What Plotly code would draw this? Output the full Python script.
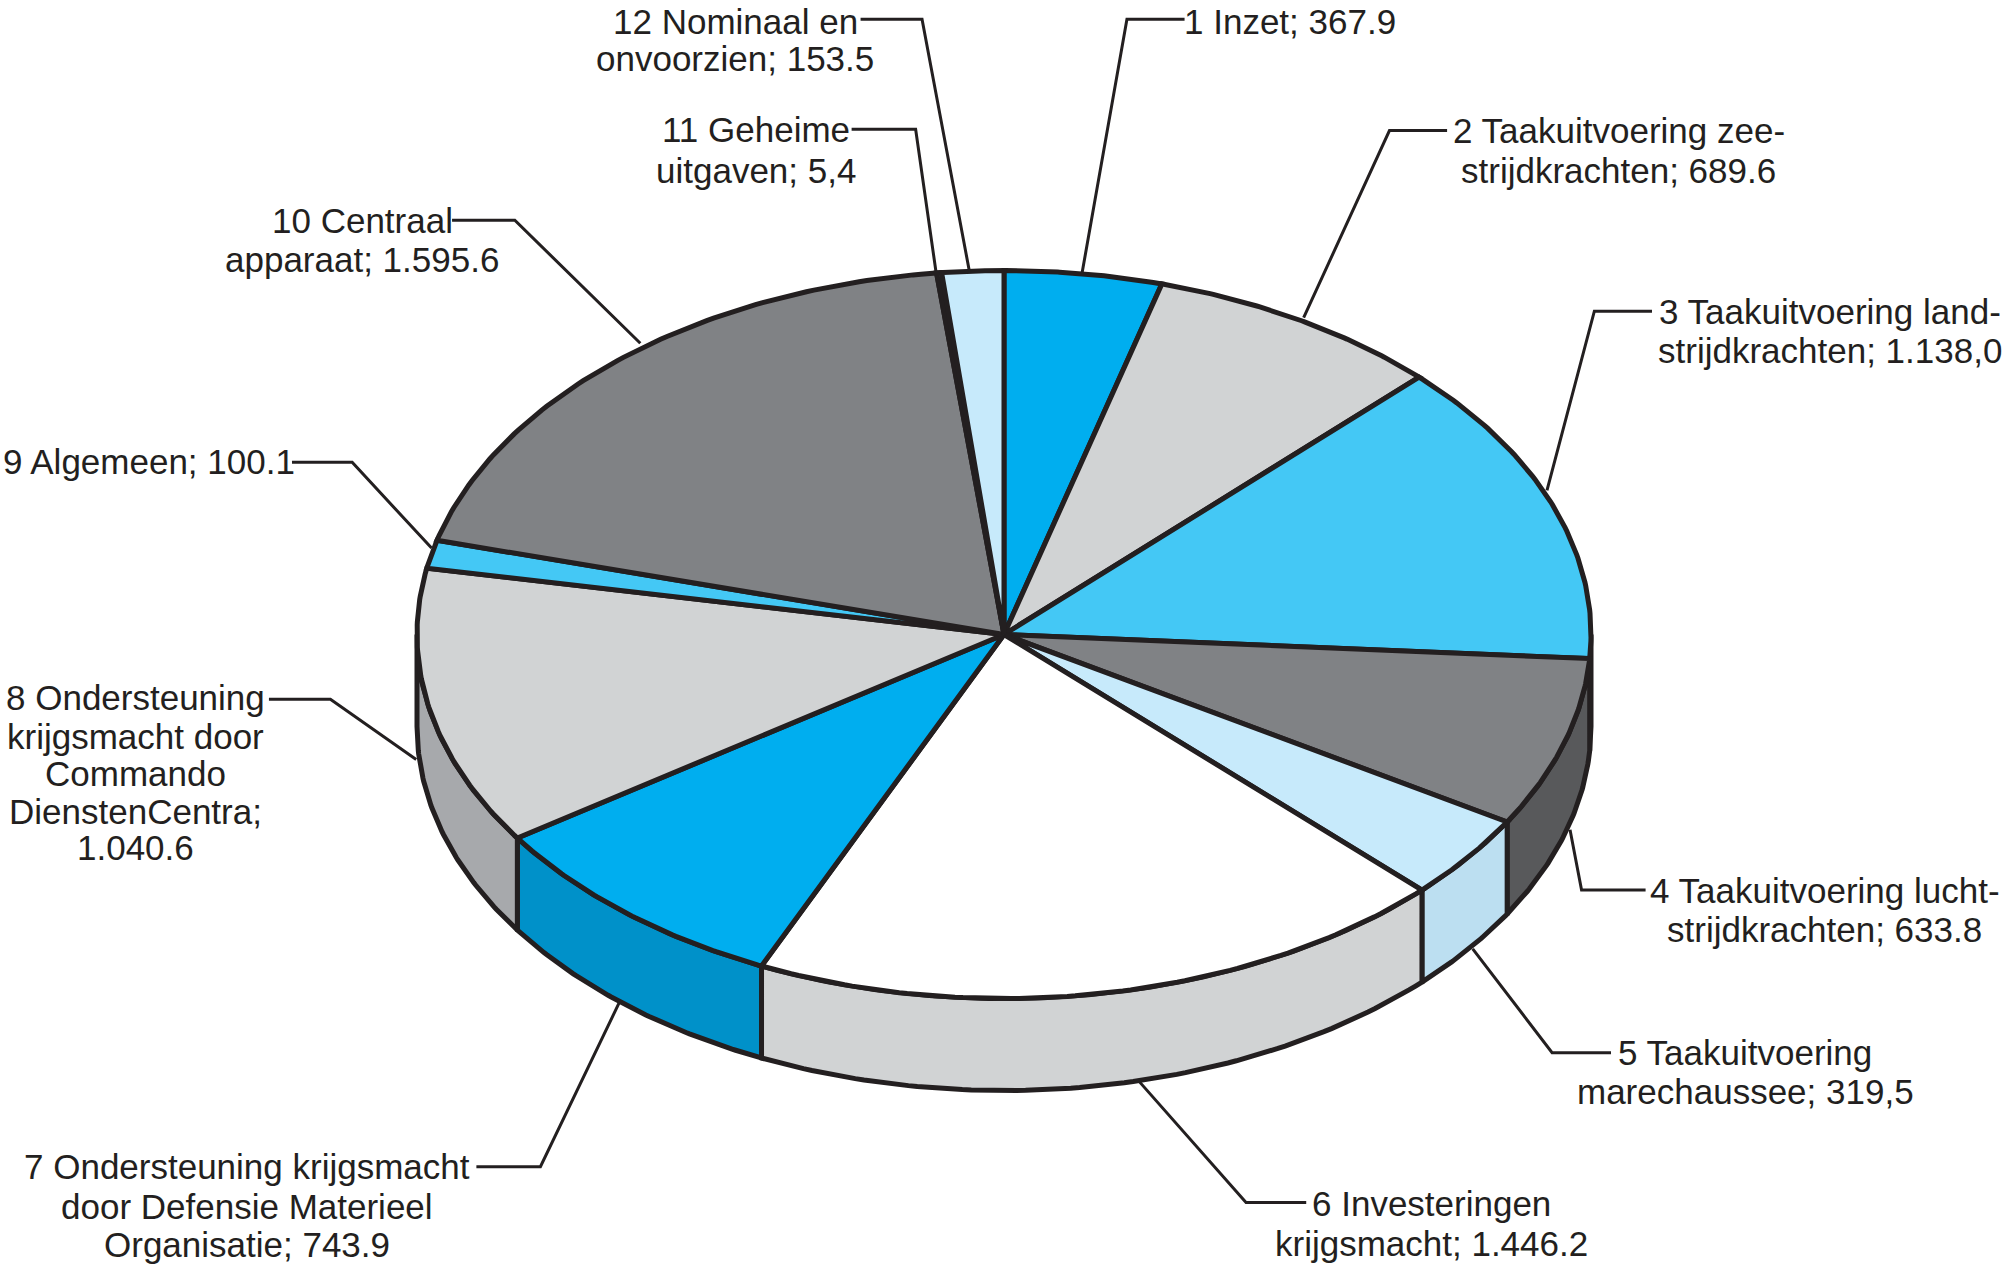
import numpy as np
import plotly.graph_objects as go

# Label lines, one list per slice
label_lines = [
    ["1 Inzet; 367.9"],
    ["2 Taakuitvoering zee-", "strijdkrachten; 689.6"],
    ["3 Taakuitvoering land-", "strijdkrachten; 1.138,0"],
    ["4 Taakuitvoering lucht-", "strijdkrachten; 633.8"],
    ["5 Taakuitvoering", "marechaussee; 319,5"],
    ["6 Investeringen", "krijgsmacht; 1.446.2"],
    ["7 Ondersteuning krijgsmacht", "door Defensie Materieel", "Organisatie; 743.9"],
    ["8 Ondersteuning", "krijgsmacht door", "Commando", "DienstenCentra;", "1.040.6"],
    ["9 Algemeen; 100.1"],
    ["10 Centraal", "apparaat; 1.595.6"],
    ["11 Geheime", "uitgaven; 5,4"],
    ["12 Nominaal en", "onvoorzien; 153.5"],
]
# Slice sizes as drawn in the picture (degrees of the circle)
drawn_sizes = [15.6, 29.4, 48.8, 27.2, 13.6, 69.8, 31.6, 44.5, 4.5, 68.4, 0.5, 6.1]
top_colors = ["#00aeef", "#d1d3d4", "#44c8f5", "#808285", "#c7eafb", "#ffffff",
              "#00aeef", "#d1d3d4", "#44c8f5", "#808285", "#c7eafb", "#c7eafb"]
side_colors = [None, None, "#58595b", "#58595b", "#bcdff1", "#d1d3d4", "#0091c9", "#a7a9ac", None, None, None, None]

INK = "#231f20"
S = 2008 / 1568
CX, CY, RX, RY, DEPTH = 1004, 634.5, 587, 364, 92


def pt(a, dz=0.0):
    a = np.radians(a)
    return CX + RX * np.sin(a), CY - RY * np.cos(a) + dz


edges = np.concatenate([[0], np.cumsum(drawn_sizes)])
fig = go.Figure()


def poly(x, y, fill=None, width=5):
    fig.add_trace(go.Scatter(x=list(x), y=list(y), mode="lines", line=dict(color=INK, width=width),
                             fill="toself" if fill else "none", fillcolor=fill, hoverinfo="skip", showlegend=False))


# Leader lines (label end, elbow, pie end) in reference pixels
leaders = [[(925, 15), (880, 15), (845, 213)], [(1130, 102), (1085, 102), (1018, 248)],
           [(1290, 243), (1245, 243), (1208, 383)], [(1285, 695), (1235, 695), (1226, 648)],
           [(1258, 822), (1212, 822), (1150, 741)], [(1020, 939), (973, 939), (890, 845)],
           [(372, 911), (422, 911), (484, 782)], [(210, 546), (258, 546), (325, 593)],
           [(228, 361), (275, 361), (337, 428)], [(353, 172), (402, 172), (500, 268)],
           [(665, 101), (715, 101), (731, 213)], [(672, 15), (720, 15), (757, 212)]]
for l in leaders:
    poly([p[0] * S for p in l], [p[1] * S for p in l], width=3)

# Side wall of the visible front half
for i, c in enumerate(side_colors):
    if c is None:
        continue
    a0, a1 = max(edges[i], 90), min(edges[i + 1], 270)
    t = np.linspace(a0, a1, 80)
    tx, ty = pt(t)
    bx, by = pt(t[::-1], DEPTH)
    poly(np.r_[tx, bx, tx[0]], np.r_[ty, by, ty[0]], fill=c)

# Top faces
for i, c in enumerate(top_colors):
    t = np.linspace(edges[i], edges[i + 1], 90)
    x, y = pt(t)
    poly(np.r_[CX, x, CX], np.r_[CY, y, CY], fill=c)

# Labels: block centre x and per-line y in reference pixels
label_x = [1007, 1264, 1429, 1425, 1363, 1118, 193, 106, 116, 283, 590, 574]
label_y = [[17], [102, 133], [243, 274], [695, 726], [822, 852], [940, 971], [911, 942, 972],
           [545, 575, 604, 634, 662], [360], [172, 203], [101, 133], [17, 46]]
for lines, lx, ys in zip(label_lines, label_x, label_y):
    for line, ly in zip(lines, ys):
        fig.add_annotation(x=lx * S, y=ly * S, text=line, showarrow=False, xanchor="center", yanchor="middle",
                           align="center", font=dict(family="Liberation Sans", size=35, color=INK))

fig.update_xaxes(range=[0, 2008], visible=False, fixedrange=True)
fig.update_yaxes(range=[1265, 0], visible=False, fixedrange=True)
fig.update_layout(width=2008, height=1265, margin=dict(l=0, r=0, t=0, b=0), autosize=False,
                  paper_bgcolor="white", plot_bgcolor="white", showlegend=False)
fig.write_html("out.html", config=dict(displayModeBar=False),
               post_script="document.body.style.margin='0';document.body.style.overflow='hidden';")
